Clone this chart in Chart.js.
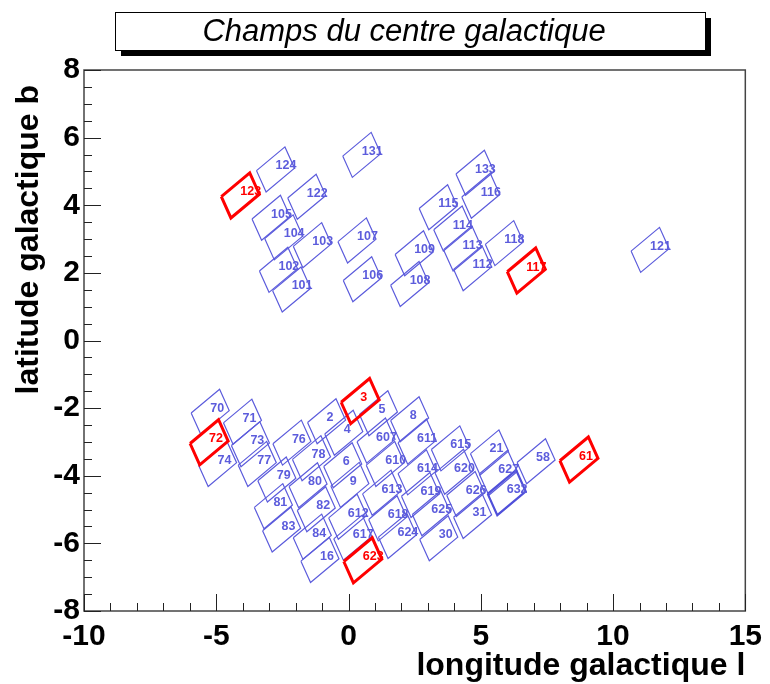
<!DOCTYPE html>
<html><head><meta charset="utf-8">
<script src="https://cdn.jsdelivr.net/npm/chart.js@4.4.0/dist/chart.umd.min.js"></script>
<style>html,body{margin:0;padding:0;background:#fff;}</style>
</head><body>
<canvas id="c" width="770" height="684"></canvas>
<script>
// ---------- data ----------
const chartTitle = 'Champs du centre galactique';
const xTitle = 'longitude galactique l';
const yTitle = 'latitude galactique b';
const xRange = [-10, 15];
const yRange = [-8, 8];

const fieldIds = ['131','124','123','122','105','104','103','107','102','101','106',
  '133','116','115','114','113','112','118','117','109','108','121',
  '70','71','72','73','74','77','76','2','4','3','78','6','79','80','9','81','82','612',
  '83','84','617','16','623','5','8','607','611','615','21','58','61','610','614','620',
  '627','613','619','626','632','618','625','31','624','30'];
const fieldL = [0.50,-2.76,-4.09,-1.58,-2.93,-2.45,-1.37,0.32,-2.65,-2.15,0.52,
  4.78,5.00,3.39,3.94,4.31,4.69,5.89,6.72,2.48,2.31,11.40,
  -5.23,-4.01,-5.27,-3.71,-4.95,-3.45,-2.14,-0.83,-0.18,0.44,-1.40,-0.22,-2.71,-1.53,0.05,-2.84,-1.22,-0.03,
  -2.53,-1.37,0.16,-1.08,0.54,1.13,2.31,1.04,2.59,3.85,5.33,7.09,8.71,1.39,2.59,3.99,
  5.66,1.25,2.72,4.43,5.98,1.48,3.13,4.69,1.85,3.41];
const fieldB = [5.49,5.06,4.29,4.25,3.63,3.05,2.82,2.96,2.09,1.51,1.81,
  4.96,4.28,3.94,3.31,2.72,2.14,2.88,2.07,2.58,1.67,2.68,
  -2.11,-2.40,-3.01,-3.07,-3.65,-3.65,-3.02,-2.39,-2.73,-1.79,-3.48,-3.69,-4.11,-4.28,-4.27,-4.90,-4.99,-5.21,
  -5.59,-5.80,-5.83,-6.49,-6.50,-2.15,-2.33,-2.96,-2.99,-3.19,-3.31,-3.57,-3.52,-3.65,-3.90,-3.88,
  -3.91,-4.50,-4.57,-4.54,-4.50,-5.26,-5.11,-5.19,-5.78,-5.85];
const redFields = ['123','117','72','3','623','61'];
const boldFields = ['632'];

// field shape (half long side / half short side, in degrees)
const halfLong = [0.5375, 0.351];
const halfShort = [0.1815, -0.315];

// ---------- styles ----------
const FONT = '"Liberation Sans", Arial, Helvetica, sans-serif';
const BLUE = 'rgb(92,92,220)';
const BLUE_BOLD = 'rgb(80,80,218)';
const RED = 'rgb(255,0,0)';

function corners(l, b) {
  const [ax, ay] = halfLong, [bx, by] = halfShort;
  return [
    {x: l - ax - bx, y: b - ay - by},
    {x: l + ax - bx, y: b + ay - by},
    {x: l + ax + bx, y: b + ay + by},
    {x: l - ax + bx, y: b - ay + by},
    {x: l - ax - bx, y: b - ay - by}
  ];
}

const datasets = fieldIds.map((id, i) => {
  const red = redFields.includes(id), bold = boldFields.includes(id);
  return {
    label: id,
    data: corners(fieldL[i], fieldB[i]),
    showLine: true,
    fill: false,
    pointRadius: 0,
    borderColor: red ? RED : (bold ? BLUE_BOLD : BLUE),
    borderWidth: red ? 3 : (bold ? 2.2 : 1.2),
    tension: 0,
    order: red ? 0 : (bold ? 1 : 2)
  };
});

const decor = {
  id: 'decor',
  beforeDraw(chart) {
    const ctx = chart.ctx;
    ctx.save();
    ctx.fillStyle = '#fff';
    ctx.fillRect(0, 0, chart.width, chart.height);
    ctx.restore();
  },
  afterDatasetsDraw(chart) {
    const {ctx, chartArea: a, scales: {x, y}} = chart;
    ctx.save();
    // field labels
    ctx.font = 'bold 12.5px ' + FONT;
    ctx.textAlign = 'left';
    ctx.textBaseline = 'alphabetic';
    fieldIds.forEach((id, i) => {
      ctx.fillStyle = redFields.includes(id) ? RED : BLUE;
      ctx.fillText(id, x.getPixelForValue(fieldL[i]), y.getPixelForValue(fieldB[i]));
    });
    // frame
    ctx.strokeStyle = '#444';
    ctx.lineWidth = 1.5;
    ctx.strokeRect(a.left, a.top, a.right - a.left, a.bottom - a.top);
    // ticks (inside)
    ctx.lineWidth = 1;
    ctx.strokeStyle = '#222';
    ctx.beginPath();
    x.ticks.forEach(t => {
      const px = Math.round(x.getPixelForValue(t.value)) + 0.5;
      const len = (Math.abs(t.value % 5) < 1e-9) ? 17 : 8;
      ctx.moveTo(px, a.bottom); ctx.lineTo(px, a.bottom - len);
    });
    y.ticks.forEach(t => {
      const py = Math.round(y.getPixelForValue(t.value)) + 0.5;
      const len = (Math.abs(t.value % 2) < 1e-9) ? 17 : 8;
      ctx.moveTo(a.left, py); ctx.lineTo(a.left + len, py);
    });
    ctx.stroke();
    ctx.restore();
  },
  afterDraw(chart) {
    const {ctx, chartArea: a} = chart;
    ctx.save();
    // axis titles
    ctx.fillStyle = '#000';
    ctx.font = 'bold 32px ' + FONT;
    ctx.textAlign = 'right';
    ctx.textBaseline = 'alphabetic';
    ctx.fillText(xTitle, a.right, 675);
    ctx.translate(38, a.top + 15);
    ctx.rotate(-Math.PI / 2);
    ctx.fillText(yTitle, 0, 0);
    ctx.restore();
    // title box with shadow
    ctx.save();
    const bx = 115, by = 12, bw = 590, bh = 38;
    ctx.fillStyle = '#000';
    ctx.fillRect(bx + 6, by + 6, bw, bh);
    ctx.fillStyle = '#fff';
    ctx.fillRect(bx, by, bw, bh);
    ctx.strokeStyle = '#000';
    ctx.lineWidth = 1;
    ctx.strokeRect(bx + 0.5, by + 0.5, bw, bh);
    ctx.fillStyle = '#000';
    ctx.font = 'italic 31px ' + FONT;
    ctx.textAlign = 'center';
    ctx.textBaseline = 'middle';
    ctx.fillText(chartTitle, 404, by + bh / 2 + 1);
    ctx.restore();
  }
};

new Chart(document.getElementById('c'), {
  type: 'scatter',
  data: {datasets},
  options: {
    responsive: false,
    animation: false,
    events: [],
    layout: {padding: {top: 70, right: 18, left: 0, bottom: 0}},
    plugins: {legend: {display: false}, tooltip: {enabled: false}, title: {display: false}},
    scales: {
      x: {
        type: 'linear', min: xRange[0], max: xRange[1],
        grid: {display: false, drawTicks: false},
        border: {display: false},
        ticks: {
          stepSize: 1, autoSkip: false, maxRotation: 0, maxTicksLimit: 100, padding: 8,
          color: '#000', font: {family: FONT, size: 30, weight: 'bold'},
          callback: v => (Math.abs(v % 5) < 1e-9 ? String(v) : '')
        },
        afterFit: s => { s.height = 73; }
      },
      y: {
        type: 'linear', min: yRange[0], max: yRange[1],
        grid: {display: false, drawTicks: false},
        border: {display: false},
        ticks: {
          stepSize: 0.5, autoSkip: false, maxTicksLimit: 100, padding: 4,
          color: '#000', font: {family: FONT, size: 30, weight: 'bold'},
          callback: v => (Math.abs(v % 2) < 1e-9 ? String(v) : '')
        },
        afterFit: s => { s.width = 84; }
      }
    }
  },
  plugins: [decor]
});
</script>
</body></html>
